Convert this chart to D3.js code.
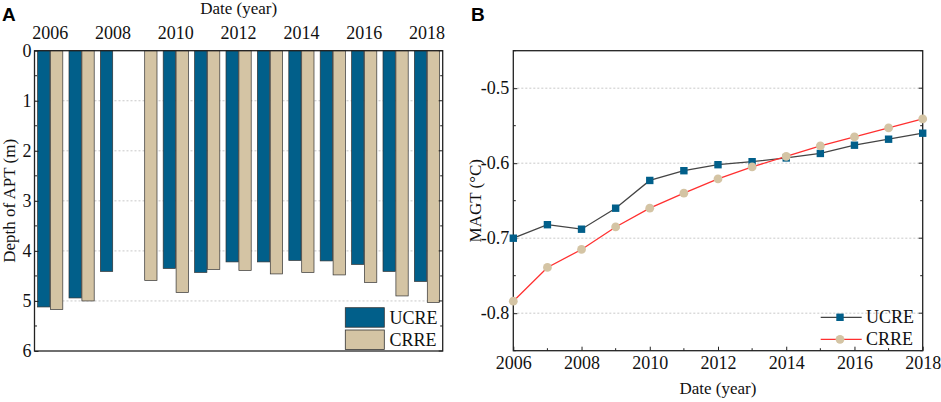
<!DOCTYPE html>
<html><head><meta charset="utf-8">
<script src="https://cdn.jsdelivr.net/npm/d3@7"></script>
<style>body{margin:0;background:#fff}svg{display:block}</style>
</head><body>
<script>
const years = [2006,2007,2008,2009,2010,2011,2012,2013,2014,2015,2016,2017,2018];
const yearTicks = [2006,2008,2010,2012,2014,2016,2018];
const aptUCRE = [5.12,4.94,4.41,null,4.35,4.43,4.22,4.22,4.19,4.20,4.27,4.41,4.61];
const aptCRRE = [5.17,5.00,null,4.59,4.83,4.37,4.39,4.46,4.43,4.48,4.63,4.90,5.03];
const magtUCRE = [-0.700,-0.682,-0.688,-0.660,-0.623,-0.610,-0.602,-0.598,-0.593,-0.587,-0.576,-0.568,-0.560];
const magtCRRE = [-0.784,-0.739,-0.715,-0.685,-0.660,-0.640,-0.621,-0.605,-0.591,-0.577,-0.565,-0.553,-0.541];
const depthTicks = [0,1,2,3,4,5,6];
const magtTicks = [-0.8,-0.7,-0.6,-0.5];
const seriesNames = ["UCRE","CRRE"];

const colU = "#015f8a", colC = "#d4c4a4";
const W = 941, H = 402;
const svg = d3.select("body").append("svg").attr("width",W).attr("height",H);
const serif = "'Liberation Serif','Times New Roman',serif";
const fs = 17, tfs = 18;

// ---------- Panel A ----------
const A = {l:34.5, r:442.7, t:50.7, b:351};
const xA = d3.scaleBand().domain(years).range([A.l, A.r]).paddingInner(0).paddingOuter(0);
const yA = d3.scaleLinear().domain([0,6]).range([A.t, A.b]);
const gA = svg.append("g");

gA.append("g").selectAll("line").data(depthTicks.filter(d=>d>0&&d<6)).join("line")
  .attr("x1",A.l).attr("x2",A.r).attr("y1",d=>yA(d)).attr("y2",d=>yA(d))
  .attr("stroke","#bbb").attr("stroke-width",0.8).attr("stroke-dasharray","2,2");

const bw = 12.3, gap = 0.6;
const barData = [];
years.forEach((y,i)=>{
  if(aptUCRE[i]!=null) barData.push({y, v:aptUCRE[i], s:0});
  if(aptCRRE[i]!=null) barData.push({y, v:aptCRRE[i], s:1});
});
gA.append("g").selectAll("rect").data(barData).join("rect")
  .attr("x",d=>{const c = xA(d.y)+xA.bandwidth()/2; return d.s===0 ? c-bw-gap/2 : c+gap/2;})
  .attr("y",yA(0)).attr("width",bw).attr("height",d=>yA(d.v)-yA(0))
  .attr("fill",d=>d.s===0?colU:colC).attr("stroke","#333").attr("stroke-width",0.7);

gA.append("rect").attr("x",A.l).attr("y",A.t).attr("width",A.r-A.l).attr("height",A.b-A.t)
  .attr("fill","none").attr("stroke","#222").attr("stroke-width",1.3);

const yAxA = d3.axisLeft(yA).tickValues(depthTicks).tickSize(-4).tickPadding(3).tickFormat(d3.format("d"));
const gyA = gA.append("g").attr("transform",`translate(${A.l},0)`).call(yAxA);
gyA.select(".domain").remove();
gyA.selectAll("text").attr("font-family",serif).attr("font-size",tfs).attr("fill","#111");
gyA.selectAll("line").attr("stroke","#222");
const minorA = d3.range(0.5,6,1);
gA.append("g").selectAll("line").data(minorA).join("line")
  .attr("x1",A.l).attr("x2",A.l+2.5).attr("y1",d=>yA(d)).attr("y2",d=>yA(d)).attr("stroke","#222");
gA.append("g").selectAll("line").data(minorA).join("line")
  .attr("x1",A.r).attr("x2",A.r-2.5).attr("y1",d=>yA(d)).attr("y2",d=>yA(d)).attr("stroke","#222");
gA.append("g").selectAll("line").data(depthTicks).join("line")
  .attr("x1",A.r).attr("x2",A.r-4).attr("y1",d=>yA(d)).attr("y2",d=>yA(d)).attr("stroke","#222");

const xAxA = d3.axisTop(xA).tickValues(yearTicks).tickSize(0).tickPadding(12);
const gxA = gA.append("g").attr("transform",`translate(0,${A.t})`).call(xAxA);
gxA.select(".domain").remove();
gxA.selectAll("text").attr("font-family",serif).attr("font-size",tfs).attr("fill","#111");

gA.append("text").attr("x",(A.l+A.r)/2).attr("y",14).attr("text-anchor","middle")
  .attr("font-family",serif).attr("font-size",fs).attr("fill","#111").text("Date (year)");
gA.append("text").attr("transform",`translate(15,${(A.t+A.b)/2}) rotate(-90)`).attr("text-anchor","middle")
  .attr("font-family",serif).attr("font-size",fs).attr("fill","#111").text("Depth of APT (m)");
svg.append("text").attr("x",2).attr("y",21).attr("font-family","'Liberation Sans',Arial,sans-serif")
  .attr("font-weight","bold").attr("font-size",19).attr("fill","#000").text("A");

const legA = gA.append("g");
seriesNames.forEach((n,i)=>{
  const y0 = 307.7 + i*22.3;
  legA.append("rect").attr("x",345.3).attr("y",y0).attr("width",39).attr("height",19.5)
    .attr("fill",i===0?colU:colC).attr("stroke","#333").attr("stroke-width",0.8);
  legA.append("text").attr("x",389.5).attr("y",y0+16).attr("font-family",serif).attr("font-size",18)
    .attr("fill","#111").text(n);
});

// ---------- Panel B ----------
const B = {l:513.3, r:922.7, t:50.7, b:350.7};
const xB = d3.scaleLinear().domain([2006,2018]).range([B.l,B.r]);
const yB = d3.scaleLinear().domain([-0.85,-0.45]).range([B.b,B.t]);
const gB = svg.append("g");

gB.append("g").selectAll("line").data(magtTicks).join("line")
  .attr("x1",B.l).attr("x2",B.r).attr("y1",d=>yB(d)).attr("y2",d=>yB(d))
  .attr("stroke","#bbb").attr("stroke-width",0.8).attr("stroke-dasharray","2,2");

gB.append("rect").attr("x",B.l).attr("y",B.t).attr("width",B.r-B.l).attr("height",B.b-B.t)
  .attr("fill","none").attr("stroke","#222").attr("stroke-width",1.3);

const yAxB = d3.axisLeft(yB).tickValues(magtTicks).tickSize(-4).tickPadding(4).tickFormat(d=>d3.format(".1f")(d).replace("−","-"));
const gyB = gB.append("g").attr("transform",`translate(${B.l},0)`).call(yAxB);
gyB.select(".domain").remove();
gyB.selectAll("text").attr("font-family",serif).attr("font-size",tfs).attr("fill","#111");
gyB.selectAll("line").attr("stroke","#222");
const minorB = [-0.85,-0.75,-0.65,-0.55,-0.45];
[[B.l,1],[B.r,-1]].forEach(([x0,dir])=>{
  gB.append("g").selectAll("line").data(minorB).join("line")
    .attr("x1",x0).attr("x2",x0+dir*2.5).attr("y1",d=>yB(d)).attr("y2",d=>yB(d)).attr("stroke","#222");
});
gB.append("g").selectAll("line").data(magtTicks).join("line")
  .attr("x1",B.r).attr("x2",B.r-4).attr("y1",d=>yB(d)).attr("y2",d=>yB(d)).attr("stroke","#222");

const xAxB = d3.axisBottom(xB).tickValues(yearTicks).tickSize(-4).tickPadding(6).tickFormat(d3.format("d"));
const gxB = gB.append("g").attr("transform",`translate(0,${B.b})`).call(xAxB);
gxB.select(".domain").remove();
gxB.selectAll("text").attr("font-family",serif).attr("font-size",tfs).attr("fill","#111");
gxB.selectAll("line").attr("stroke","#222");
gB.append("g").selectAll("line").data(years.filter(y=>y%2===1)).join("line")
  .attr("x1",d=>xB(d)).attr("x2",d=>xB(d)).attr("y1",B.b).attr("y2",B.b-2.5).attr("stroke","#222");

gB.append("text").attr("x",(B.l+B.r)/2).attr("y",394).attr("text-anchor","middle")
  .attr("font-family",serif).attr("font-size",fs).attr("fill","#111").text("Date (year)");
gB.append("text").attr("transform",`translate(481,${(B.t+B.b)/2}) rotate(-90)`).attr("text-anchor","middle")
  .attr("font-family",serif).attr("font-size",fs).attr("fill","#111").text("MAGT (°C)");
svg.append("text").attr("x",471).attr("y",21).attr("font-family","'Liberation Sans',Arial,sans-serif")
  .attr("font-weight","bold").attr("font-size",19).attr("fill","#000").text("B");

const line = d3.line().x((d,i)=>xB(years[i])).y(d=>yB(d));
gB.append("path").datum(magtUCRE).attr("d",line).attr("fill","none").attr("stroke","#444").attr("stroke-width",1.3);
gB.append("path").datum(magtCRRE).attr("d",line).attr("fill","none").attr("stroke","#ff3030").attr("stroke-width",1.3);
gB.append("g").selectAll("rect").data(magtUCRE).join("rect")
  .attr("x",(d,i)=>xB(years[i])-3.7).attr("y",d=>yB(d)-3.7).attr("width",7.4).attr("height",7.4)
  .attr("fill",colU);
gB.append("g").selectAll("circle").data(magtCRRE).join("circle")
  .attr("cx",(d,i)=>xB(years[i])).attr("cy",d=>yB(d)).attr("r",4.4).attr("fill",colC);

const legB = gB.append("g");
[["UCRE","#444",317.3],["CRRE","#ff3030",339.3]].forEach(([n,c,y],i)=>{
  legB.append("line").attr("x1",820.7).attr("x2",861.7).attr("y1",y).attr("y2",y).attr("stroke",c).attr("stroke-width",1.3);
  if(i===0) legB.append("rect").attr("x",840-3.7).attr("y",y-3.7).attr("width",7.4).attr("height",7.4).attr("fill",colU);
  else legB.append("circle").attr("cx",840).attr("cy",y).attr("r",4.4).attr("fill",colC);
  legB.append("text").attr("x",866).attr("y",y+6).attr("font-family",serif).attr("font-size",18).attr("fill","#111").text(n);
});
</script>
</body></html>
